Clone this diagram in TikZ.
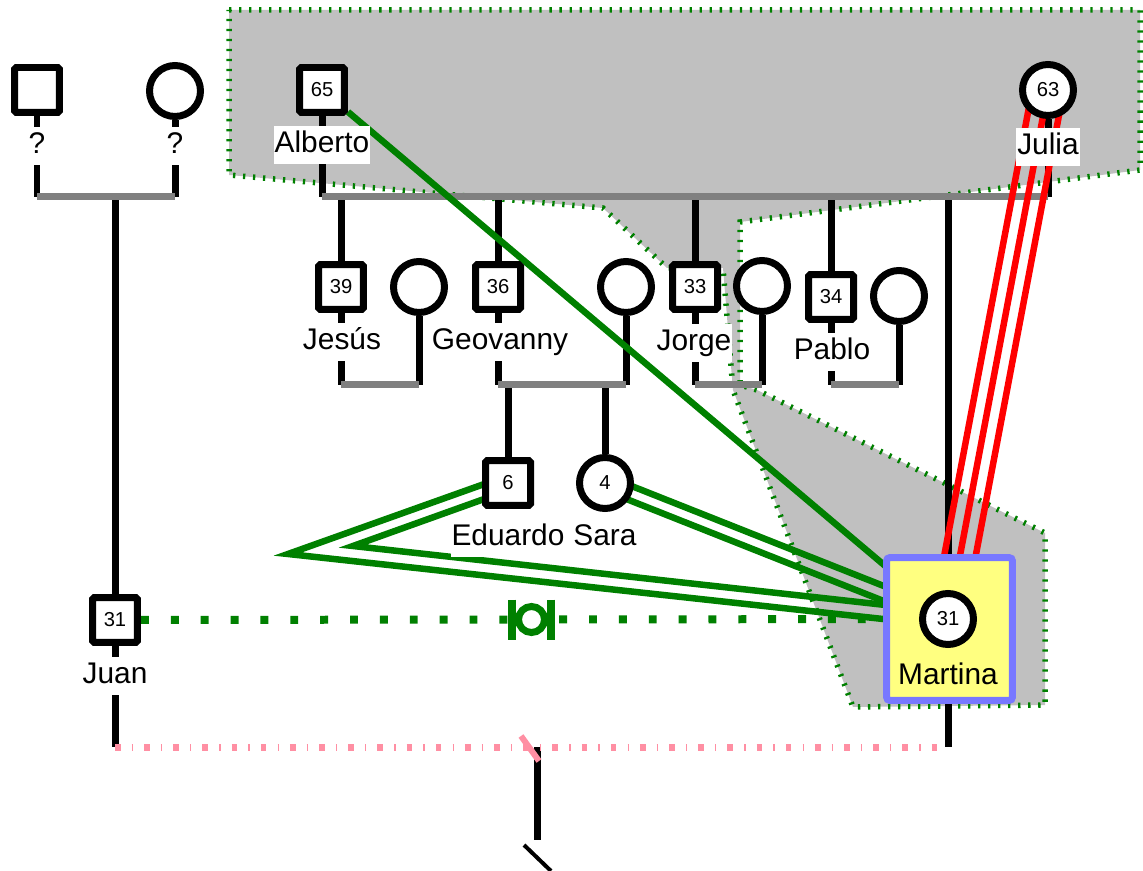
\documentclass[tikz,border=0pt]{standalone}
\usepackage{fontspec}
\setmainfont{Liberation Sans}
\usetikzlibrary{calc}
\definecolor{hullgray}{RGB}{192,192,192}
\definecolor{couplegray}{RGB}{128,128,128}
\definecolor{gpgreen}{RGB}{0,128,0}
\definecolor{seppink}{RGB}{255,143,163}
\definecolor{martinayellow}{RGB}{255,255,128}
\definecolor{martinablue}{RGB}{120,120,255}
\newcommand\namesize{\fontsize{17}{19}\selectfont}
\newcommand\agesize{\fontsize{11.5}{13}\selectfont}
\pgfdeclarelayer{hullbg}
\pgfdeclarelayer{linebg}
\pgfsetlayers{hullbg,linebg,main}

\begin{document}
\begin{tikzpicture}[x=0.02cm, y=-0.02cm,
	male/.style={rectangle, draw, fill=white, line width=0.14cm, minimum size=0.9cm, inner sep=0pt, rounded corners=1pt, font=\agesize},
	female/.style={circle, draw, fill=white, line width=0.14cm, minimum size=1.02cm, inner sep=0pt, font=\agesize},
	tag/.style={fill=white, inner xsep=0.5pt, inner ysep=2.5pt, text height=12.5pt, text depth=3.6pt, font=\namesize},
	descent/.style={line width=0.14cm},
	union/.style={couplegray, line width=0.14cm},
	hull/.style={fill=hullgray, draw=gpgreen, line width=0.11cm, dash pattern=on 1.3pt off 4.4pt},
	bond/.style={gpgreen, line width=0.13cm},
	enmesh/.style={red, line width=0.13cm},
	distant/.style={gpgreen, line width=0.16cm, dash pattern=on 4.5pt off 12.5pt},
	parted/.style={seppink, line width=0.14cm, dash pattern=on 3.2pt off 6.3pt on 0.8pt off 6.3pt}]
	\useasboundingbox (0,0) rectangle (1143,871);
	% people
	\node[male] (juanfa) at (37,90) {};
	\node[female] (juanmo) at (175,91) {};
	\node[male] (alberto) at (322,90) {65};
	\node[female] (julia) at (1048,90) {63};
	\node[male] (jesus) at (341,287) {39};
	\node[female] (jesuswife) at (419,287) {};
	\node[male] (geovanny) at (498,287) {36};
	\node[female] (geowife) at (626,287) {};
	\node[male] (jorge) at (695,287) {33};
	\node[female] (jorgewife) at (762,286) {};
	\node[male] (pablo) at (831,297) {34};
	\node[female] (pablowife) at (899,296) {};
	\node[male] (eduardo) at (508,483) {6};
	\node[female] (sara) at (605,483) {4};
	\node[male] (juan) at (115,620) {31};
	\node[draw=martinablue, fill=martinayellow, line width=0.14cm, minimum width=2.52cm, minimum height=2.86cm, rounded corners=2pt] (martinabox) at (949.5,629) {};
	\node[female] (martina) at (948,619) {31};
	% names
	\node[tag] (juanfaname) at (37,146) {?};
	\node[tag] (juanmoname) at (175,146) {?};
	\node[tag] (albertoname) at (322,145) {Alberto};
	\node[tag] (julianame) at (1048,147) {Julia};
	\node[tag] (jesusname) at (342,342) {Jesús};
	\node[tag] (geovannyname) at (500,342) {Geovanny};
	\node[tag] (jorgename) at (694,343) {Jorge};
	\node[tag] (pabloname) at (832,352) {Pablo};
	\node[tag] (eduardoname) at (508,538) {Eduardo};
	\node[tag] (saraname) at (605,538) {Sara};
	\node[tag] (juanname) at (115,676) {Juan};
	\node[font=\namesize] (martinaname) at (948,674) {Martina};

	\coordinate (juanpar) at (115,197);
	\coordinate (sibline) at (690,197);
	\coordinate (kidsline) at (500,385);
	\coordinate (sepline) at (531,747);
	\coordinate (lostkid) at (537,840);
	\coordinate (edbendout) at (288,554);
	\coordinate (edbendin) at (353,546);

	\begin{pgfonlayer}{hullbg}
		\filldraw[hull] (229,10) -- (1140,10) -- (1140,170) -- (740,222) -- (740,385) -- (757,390) -- (1045,533) -- (1045,705) -- (853,707) -- (733,390) -- (723,268) -- (667,268) -- (603,208) -- (229,175) -- cycle;
	\end{pgfonlayer}

	\begin{pgfonlayer}{linebg}
		% family lines
		\draw[descent] (juanfa) -- (juanfa |- juanpar);
		\draw[descent] (juanmo) -- (juanmo |- juanpar);
		\draw[descent] (juanpar) -- (juan |- sepline);
		\draw[union] (juanfa |- juanpar) -- (juanmo |- juanpar);
		\draw[descent] (alberto) -- (alberto |- sibline);
		\draw[descent] (julia) -- (julia |- sibline);
		\foreach \kid in {jesus,geovanny,jorge,pablo}
			\draw[descent] (\kid |- sibline) -- (\kid);
		\draw[descent] (martina |- sibline) -- (martina |- sepline);
		\foreach \hu/\wi in {jesus/jesuswife,geovanny/geowife,jorge/jorgewife,pablo/pablowife}{
			\draw[descent] (\hu) -- (\hu |- kidsline);
			\draw[descent] (\wi) -- (\wi |- kidsline);
		}
		\draw[descent] (eduardo |- kidsline) -- (eduardo);
		\draw[descent] (sara |- kidsline) -- (sara);
		\foreach \hu/\wi in {jesus/jesuswife,geovanny/geowife,jorge/jorgewife,pablo/pablowife}
			\draw[union] (\hu |- kidsline) -- (\wi |- kidsline);
		\draw[union] (alberto |- sibline) -- (julia |- sibline);
		% Juan and Martina
		\draw[descent] (lostkid |- sepline) -- (lostkid);
		\draw[line width=0.08cm] ($(lostkid)+(-13,5)$) -- ($(lostkid)+(14,31)$);
		\draw[parted] (juan |- sepline) -- (martina |- sepline);
		\draw[seppink, line width=0.12cm] ($(sepline)+(-10,-11)$) -- ($(sepline)+(8,14)$);
		\draw[distant] (juan) -- (martina);
		\coordinate (distmid) at ($(juan)!0.5!(martina)$);
		\draw[gpgreen, line width=0.14cm, fill=white] (distmid) circle[radius=0.26cm];
		\draw[gpgreen, line width=0.16cm] ($(distmid)+(-19.5,-20)$) -- ($(distmid)+(-19.5,20)$);
		\draw[gpgreen, line width=0.16cm] ($(distmid)+(19.5,-20)$) -- ($(distmid)+(19.5,20)$);
		% emotional lines to Martina
		\draw[bond] (alberto) -- (martina);
		\draw[bond] ($(sara)!0.14cm!90:(martina)$) -- ($(martina)!0.14cm!-90:(sara)$);
		\draw[bond] ($(sara)!0.14cm!-90:(martina)$) -- ($(martina)!0.14cm!90:(sara)$);
		\draw[bond] ($(eduardo)+(-2.4,-6.6)$) -- (edbendout) -- ($(martina)+(-0.8,7)$);
		\draw[bond] ($(eduardo)+(2.4,6.6)$) -- (edbendin) -- ($(martina)+(0.8,-7)$);
		\foreach \off in {-0.31cm,0cm,0.31cm}
			\draw[enmesh] ($(julia)!\off!90:(martina)$) -- ($(martina)!\off!-90:(julia)$);
	\end{pgfonlayer}
\end{tikzpicture}
\end{document}
